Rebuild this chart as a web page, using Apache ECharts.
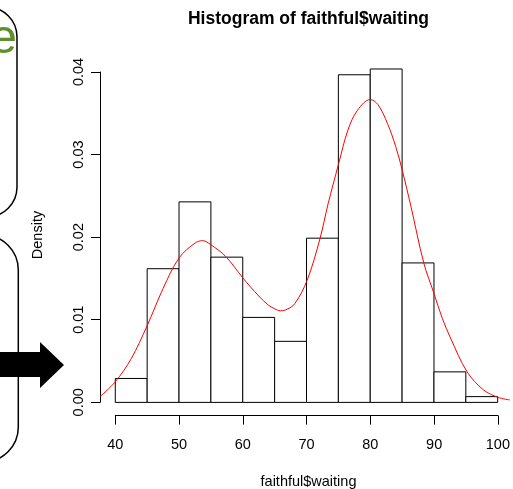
<!DOCTYPE html>
<html>
<head>
<meta charset="utf-8">
<script src="https://cdn.jsdelivr.net/npm/echarts/dist/echarts.min.js"></script>
<style>
  html, body { margin: 0; padding: 0; background: #fff; }
  #chart { width: 513px; height: 489px; }
</style>
</head>
<body>
<div id="chart"></div>
<script>
// histogram bins (5-minute wide) and their densities
const binStart = [40, 45, 50, 55, 60, 65, 70, 75, 80, 85, 90, 95];
const binEnd = [45, 50, 55, 60, 65, 70, 75, 80, 85, 90, 95, 100];
const binDensity = [0.0029, 0.0162, 0.0243, 0.0176, 0.0103, 0.0074, 0.0199, 0.0397, 0.0404, 0.0169, 0.0037, 0.0007];

// kernel density curve
const curveX = [37.6, 40, 42.5, 45, 47.5, 50, 52.5, 53.7, 55, 57.3, 60, 61.2, 62.5, 64, 65, 65.9, 67, 68.2, 70.1, 72.1, 73.4, 75, 76.5, 78, 80, 81.2, 82.7, 84, 85, 86.4, 88.4, 90, 91.3, 92.6, 95.2, 97.8, 100.1, 101.9];
const curveY = [0.0007, 0.0025, 0.0053, 0.0093, 0.0138, 0.0175, 0.0193, 0.0196, 0.0191, 0.0177, 0.0151, 0.0140, 0.0129, 0.0118, 0.01135, 0.0111, 0.0113, 0.0120, 0.0148, 0.0198, 0.0241, 0.0288, 0.0330, 0.0354, 0.0367, 0.0361, 0.0338, 0.0310, 0.0282, 0.0237, 0.0169, 0.0132, 0.0102, 0.0078, 0.0037, 0.0015, 0.0006, 0.0003];

const xTicks = {min: 40, max: 100, step: 10};
const yTicks = {min: 0, max: 0.04, step: 0.01};

const font = '"Liberation Sans", Arial, sans-serif';
const chart = echarts.init(document.getElementById('chart'));

chart.setOption({
    backgroundColor: '#fff',
    animation: false,
    textStyle: {fontFamily: font, color: '#000'},
    grid: [
        // plot region (R adds 4% on each side)
        {left: 100, top: 55.3, width: 416.7, height: 360.3},
        // x axis strip
        {left: 115.3, top: 414.6, width: 385.8, height: 1},
        // y axis strip
        {left: 100, top: 72, width: 1, height: 330.3},
    ],
    xAxis: [
        {gridIndex: 0, type: 'value', min: 37.6, max: 102.4, show: false},
        {
            gridIndex: 1, type: 'value', min: xTicks.min, max: xTicks.max, interval: xTicks.step,
            axisLine: {lineStyle: {color: '#000', width: 1}},
            axisTick: {length: 9, lineStyle: {color: '#000'}},
            axisLabel: {margin: 22, fontSize: 14.5, color: '#000', fontFamily: font},
            splitLine: {show: false},
        },
        {gridIndex: 2, type: 'value', show: false},
    ],
    yAxis: [
        {gridIndex: 0, type: 'value', min: -0.0016, max: 0.04206, show: false},
        {gridIndex: 1, type: 'value', show: false},
        {
            gridIndex: 2, type: 'value', min: yTicks.min, max: yTicks.max, interval: yTicks.step,
            axisLine: {show: true, lineStyle: {color: '#000', width: 1}},
            axisTick: {show: true, length: 9, lineStyle: {color: '#000'}},
            axisLabel: {
                rotate: 90, margin: 14, fontSize: 14.5, color: '#000', fontFamily: font,
                formatter: v => v.toFixed(2),
            },
            splitLine: {show: false},
        },
    ],
    graphic: [
        {type: 'text', x: 308.5, y: 19, style: {
            text: 'Histogram of faithful$waiting', font: 'bold 17.5px ' + font,
            fill: '#000', align: 'center', verticalAlign: 'middle'}},
        {type: 'text', x: 308.5, y: 482, style: {
            text: 'faithful$waiting', font: '14.5px ' + font,
            fill: '#000', align: 'center', verticalAlign: 'middle'}},
        {type: 'text', x: 37.5, y: 235, rotation: Math.PI / 2, style: {
            text: 'Density', font: '14.5px ' + font,
            fill: '#000', align: 'center', verticalAlign: 'middle'}},
        // bits of the slide behind the plot
        {type: 'rect', shape: {x: -60, y: 7, width: 77, height: 210, r: 30},
            style: {fill: 'none', stroke: '#000', lineWidth: 1.5}},
        {type: 'rect', shape: {x: -60, y: 235, width: 78.3, height: 227, r: 35},
            style: {fill: 'none', stroke: '#000', lineWidth: 1.5}},
        {type: 'text', x: 17, y: 40, style: {
            text: 'e', font: '48px "Liberation Sans", sans-serif',
            fill: '#5f8f2a', align: 'right', verticalAlign: 'middle'}},
        {type: 'polygon', shape: {points: [[0, 352], [40, 352], [40, 342], [64, 365], [40, 388], [40, 377], [0, 377]]},
            style: {fill: '#000'}},
    ],
    series: [
        {
            type: 'custom',
            xAxisIndex: 0, yAxisIndex: 0,
            data: binStart.map((s, i) => [s, binEnd[i], binDensity[i]]),
            encode: {x: [0, 1], y: 2},
            renderItem(params, api) {
                const p0 = api.coord([api.value(0), api.value(2)]);
                const p1 = api.coord([api.value(1), 0]);
                return {
                    type: 'rect',
                    shape: {x: p0[0], y: p0[1], width: p1[0] - p0[0], height: p1[1] - p0[1]},
                    style: {fill: '#fff', stroke: '#000', lineWidth: 1},
                };
            },
        },
        {
            type: 'line',
            xAxisIndex: 0, yAxisIndex: 0,
            data: curveX.map((x, i) => [x, curveY[i]]),
            smooth: 0.35,
            showSymbol: false,
            lineStyle: {color: '#ff0000', width: 1},
        },
    ],
});
</script>
</body>
</html>
